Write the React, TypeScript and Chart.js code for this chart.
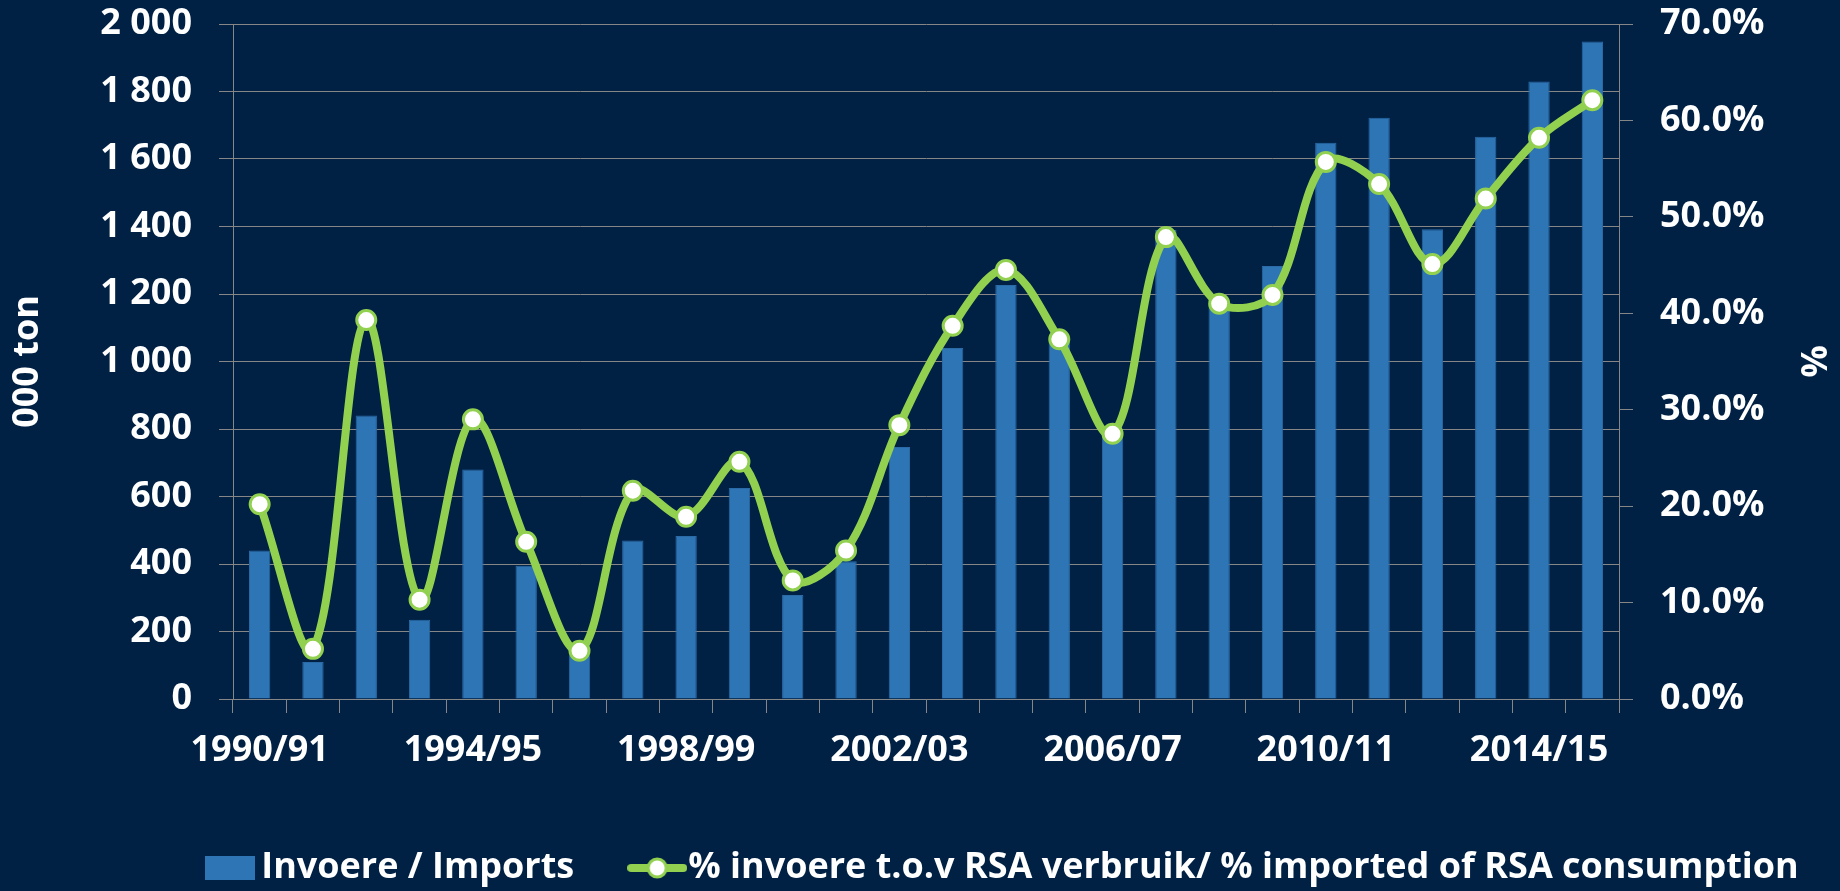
import React, { useEffect, useRef } from "react";
import { Chart, registerables } from "chart.js";

Chart.register(...registerables);

// ---------- data ----------
const seasons = [
  "1990/91", "1991/92", "1992/93", "1993/94", "1994/95", "1995/96", "1996/97",
  "1997/98", "1998/99", "1999/00", "2000/01", "2001/02", "2002/03", "2003/04",
  "2004/05", "2005/06", "2006/07", "2007/08", "2008/09", "2009/10", "2010/11",
  "2011/12", "2012/13", "2013/14", "2014/15", "2015/16",
];
const importsKt = [
  440, 110, 840, 235, 680, 395, 130, 470, 483, 625, 308, 408, 747, 1040, 1227,
  1060, 785, 1390, 1170, 1283, 1648, 1722, 1392, 1666, 1830, 1948,
];
const importSharePct = [
  20.2, 5.2, 39.3, 10.3, 29.0, 16.3, 5.0, 21.6, 18.9, 24.6, 12.3, 15.4, 28.4,
  38.7, 44.5, 37.3, 27.5, 47.9, 41.0, 41.9, 55.7, 53.4, 45.1, 51.9, 58.2, 62.1,
];
const shownSeasonLabels = ["1990/91", "1994/95", "1998/99", "2002/03", "2006/07", "2010/11", "2014/15"];
const barLabel = "Invoere / Imports";
const lineLabel = "% invoere t.o.v RSA verbruik/ % imported of RSA consumption";
const leftTitle = "000 ton";
const rightTitle = "%";

// ---------- style ----------
const W = 1840;
const H = 891;
const BG = "#002144";
const BAR = "#2E75B6";
const LINE = "#92D050";
const GRID = "#868686";
const FONT = "'Open Sans', 'DejaVu Sans', sans-serif";
const LEGEND_DX = 88;
const LEGEND_DY = 5;

function fmtThousands(v: number): string {
  return String(Math.round(v)).replace(/\B(?=(\d{3})+(?!\d))/g, " ");
}

function makeBoxImg(): HTMLCanvasElement {
  const c = document.createElement("canvas");
  c.width = 50;
  c.height = 24;
  const g = c.getContext("2d")!;
  g.fillStyle = BAR;
  g.fillRect(0, 0, 50, 24);
  return c;
}

function makeLineImg(): HTMLCanvasElement {
  const c = document.createElement("canvas");
  c.width = 60;
  c.height = 26;
  const g = c.getContext("2d")!;
  g.strokeStyle = LINE;
  g.lineWidth = 8;
  g.lineCap = "round";
  g.beginPath();
  g.moveTo(4, 13);
  g.lineTo(56, 13);
  g.stroke();
  g.beginPath();
  g.arc(30, 13, 9, 0, Math.PI * 2);
  g.fillStyle = "#FFFFFF";
  g.fill();
  g.lineWidth = 3;
  g.stroke();
  return c;
}

const legendShift = {
  id: "legendShift",
  afterLayout(chart: any) {
    const l = chart.legend;
    if (!l) return;
    l.left += LEGEND_DX;
    l.right += LEGEND_DX;
    l.top += LEGEND_DY;
    l.bottom += LEGEND_DY;
  },
};

export default function App() {
  const ref = useRef<HTMLCanvasElement | null>(null);

  useEffect(() => {
    if (!ref.current) return;
    const boxImg = makeBoxImg();
    const lineImg = makeLineImg();
    const tickFont = { family: FONT, size: 36, weight: "bold" as const };
    const titleFont = { family: FONT, size: 36, weight: "bold" as const };

    const chart = new Chart(ref.current, {
      type: "bar",
      data: {
        labels: seasons,
        datasets: [
          {
            type: "bar",
            label: barLabel,
            data: importsKt,
            backgroundColor: BAR,
            borderColor: "#2A6AA6",
            borderWidth: 1,
            yAxisID: "y",
            barPercentage: 0.4,
            categoryPercentage: 1,
            order: 2,
          } as any,
          {
            type: "line",
            label: lineLabel,
            data: importSharePct,
            borderColor: LINE,
            borderWidth: 8,
            tension: 0.35,
            pointRadius: 9.5,
            pointBorderWidth: 3,
            pointBackgroundColor: "#FFFFFF",
            pointBorderColor: LINE,
            yAxisID: "y1",
            order: 1,
          } as any,
        ],
      },
      options: {
        responsive: false,
        animation: false,
        layout: { padding: 0 },
        plugins: {
          tooltip: { enabled: false },
          legend: {
            position: "bottom",
            align: "center",
            labels: {
              color: "#FFFFFF",
              font: { family: FONT, size: 36, weight: "bold" },
              usePointStyle: true,
              pointStyleWidth: 26,
              padding: 70,
              generateLabels: (ch: any) => {
                const items = Chart.defaults.plugins.legend.labels.generateLabels(ch);
                items.sort((a: any, b: any) => a.datasetIndex - b.datasetIndex);
                return items.map((it: any) => ({
                  ...it,
                  pointStyle: it.datasetIndex === 0 ? boxImg : lineImg,
                }));
              },
            },
          },
        },
        scales: {
          x: {
            offset: true,
            grid: {
              offset: true,
              drawOnChartArea: false,
              drawTicks: true,
              tickLength: 14,
              color: GRID,
            },
            border: { display: true, color: GRID },
            ticks: {
              color: "#FFFFFF",
              font: tickFont,
              autoSkip: false,
              maxRotation: 0,
              minRotation: 0,
              padding: 16,
              callback: (_v: any, i: number) =>
                shownSeasonLabels.includes(seasons[i]) ? seasons[i] : "",
            },
            afterFit: (s: any) => {
              s.height = 76;
            },
          },
          y: {
            position: "left",
            min: 0,
            max: 2000,
            grid: { color: GRID, tickLength: 14, lineWidth: 1 },
            border: { display: true, color: GRID },
            ticks: {
              stepSize: 200,
              color: "#FFFFFF",
              font: tickFont,
              padding: 27,
              callback: (v: any) => fmtThousands(Number(v)),
            },
            title: {
              display: true,
              text: leftTitle,
              color: "#FFFFFF",
              font: titleFont,
              padding: { top: 6, bottom: 0 },
            },
            afterFit: (s: any) => {
              s.width = 233;
              s.paddingTop = 24;
            },
          },
          y1: {
            position: "right",
            min: 0,
            max: 70,
            grid: { drawOnChartArea: false, color: GRID, tickLength: 14 },
            border: { display: true, color: GRID },
            ticks: {
              stepSize: 10,
              color: "#FFFFFF",
              font: tickFont,
              padding: 27,
              callback: (v: any) => Number(v).toFixed(1) + "%",
            },
            title: {
              display: true,
              text: rightTitle,
              color: "#FFFFFF",
              font: titleFont,
              padding: { top: 7, bottom: 0 },
            },
            afterFit: (s: any) => {
              s.width = W - 1619;
              s.paddingTop = 24;
            },
          },
        },
      },
      plugins: [legendShift],
    });
    return () => chart.destroy();
  }, []);

  return (
    <div style={{ position: "fixed", left: 0, top: 0, width: W, height: H, background: BG }}>
      <canvas ref={ref} width={W} height={H} style={{ display: "block" }} />
    </div>
  );
}
